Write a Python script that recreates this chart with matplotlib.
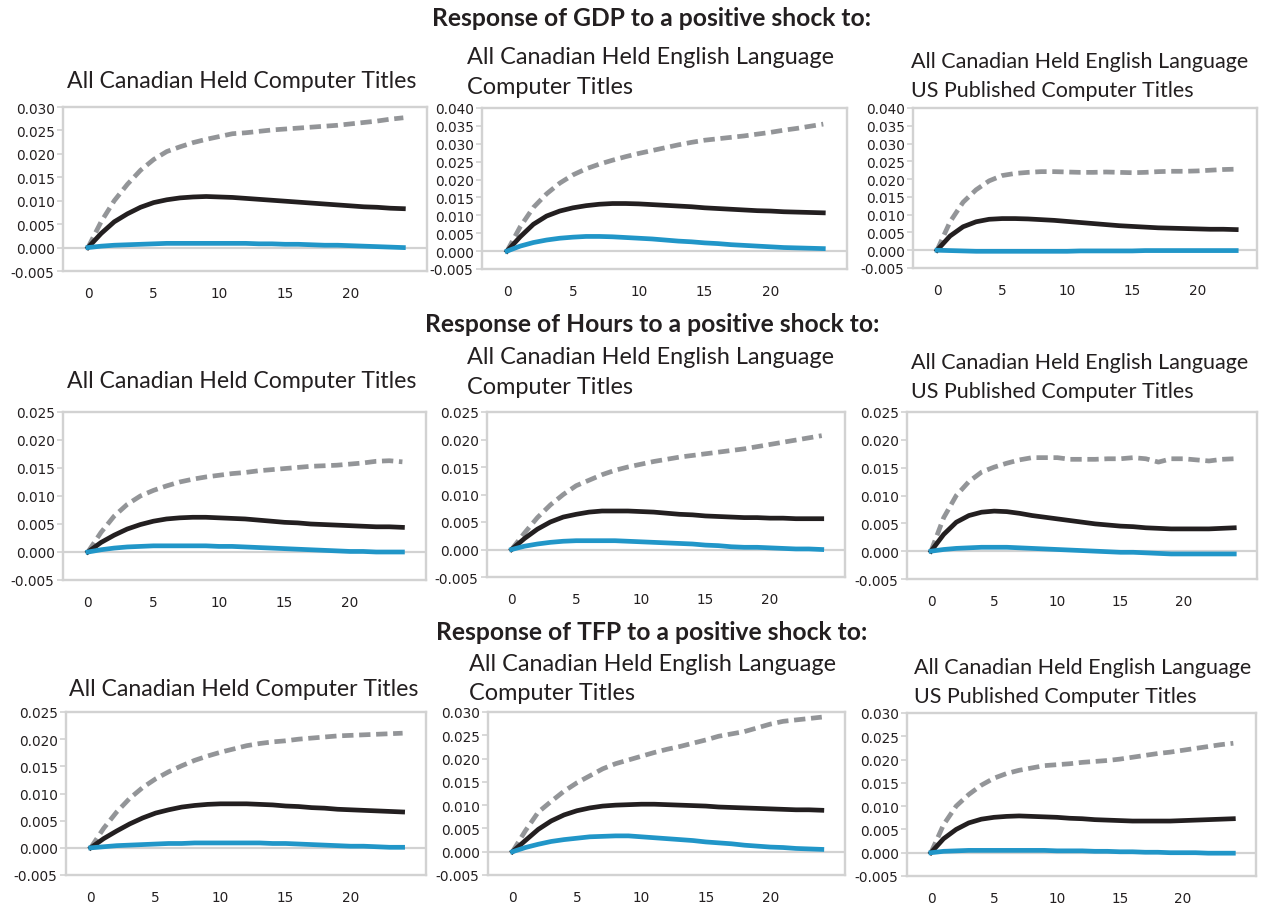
import numpy as np
import matplotlib
matplotlib.use("Agg")
import matplotlib.pyplot as plt

plt.rcParams['font.family'] = ['DejaVu Sans']

# ---- data (horizon 0..24) ----
horizons = list(range(25))

# GDP
gdp_all_upper = [0, 0.0055, 0.0100, 0.0135, 0.0165, 0.0188, 0.0205, 0.0215, 0.0224, 0.0231, 0.0237, 0.0243, 0.0245,
                 0.0248, 0.0251, 0.0253, 0.0255, 0.0257, 0.0259, 0.0261, 0.0264, 0.0267, 0.0270, 0.0274, 0.0277]
gdp_all_resp = [0, 0.0030, 0.0055, 0.0072, 0.0086, 0.0096, 0.0102, 0.0106, 0.0108, 0.0109, 0.0108, 0.0107, 0.0105,
                0.0103, 0.0101, 0.0099, 0.0097, 0.0095, 0.0093, 0.0091, 0.0089, 0.0087, 0.0086, 0.0084, 0.0083]
gdp_all_lower = [0, 0.0003, 0.0005, 0.0006, 0.0007, 0.0008, 0.0009, 0.0009, 0.0009, 0.0009, 0.0009, 0.0009, 0.0009,
                 0.0008, 0.0008, 0.0007, 0.0007, 0.0006, 0.0005, 0.0005, 0.0004, 0.0003, 0.0002, 0.0001, 0.0]

gdp_eng_upper = [0, 0.0068, 0.0122, 0.0160, 0.0190, 0.0213, 0.0230, 0.0243, 0.0254, 0.0264, 0.0273, 0.0281, 0.0289,
                 0.0297, 0.0304, 0.0310, 0.0314, 0.0318, 0.0322, 0.0327, 0.0332, 0.0338, 0.0343, 0.0349, 0.0355]
gdp_eng_resp = [0, 0.0040, 0.0075, 0.0098, 0.0112, 0.0121, 0.0127, 0.0131, 0.0133, 0.0133, 0.0132, 0.0130, 0.0128,
                0.0126, 0.0124, 0.0121, 0.0119, 0.0117, 0.0115, 0.0113, 0.0112, 0.0110, 0.0109, 0.0108, 0.0107]
gdp_eng_lower = [0, 0.0014, 0.0024, 0.0031, 0.0036, 0.0039, 0.0041, 0.0041, 0.0040, 0.0038, 0.0036, 0.0034, 0.0031,
                 0.0028, 0.0026, 0.0023, 0.0021, 0.0018, 0.0016, 0.0014, 0.0012, 0.0010, 0.0009, 0.0008, 0.0007]

# this panel stops at horizon 23
gdp_us_upper = [0, 0.0080, 0.0135, 0.0170, 0.0195, 0.0210, 0.0216, 0.0219, 0.0221, 0.0221, 0.0220, 0.0219, 0.0219,
                0.0220, 0.0219, 0.0218, 0.0219, 0.0221, 0.0222, 0.0222, 0.0223, 0.0225, 0.0227, 0.0228]
gdp_us_resp = [0, 0.0040, 0.0066, 0.0080, 0.0087, 0.0089, 0.0089, 0.0088, 0.0086, 0.0084, 0.0081, 0.0078, 0.0075,
               0.0072, 0.0069, 0.0067, 0.0065, 0.0063, 0.0062, 0.0061, 0.0060, 0.0059, 0.0059, 0.0058]
gdp_us_lower = [0, -0.0001, -0.0002, -0.0003, -0.0003, -0.0003, -0.0003, -0.0003, -0.0003, -0.0003, -0.0003, -0.0002,
                -0.0002, -0.0002, -0.0002, -0.0002, -0.0001, -0.0001, -0.0001, -0.0001, -0.0001, -0.0001, -0.0001, -0.0001]

# Hours
hrs_all_upper = [0, 0.0035, 0.0064, 0.0085, 0.0100, 0.0110, 0.0118, 0.0125, 0.0130, 0.0134, 0.0137, 0.0140, 0.0142,
                 0.0145, 0.0147, 0.0149, 0.0151, 0.0153, 0.0154, 0.0155, 0.0157, 0.0159, 0.0162, 0.0163, 0.0161]
hrs_all_resp = [0, 0.0017, 0.0030, 0.0041, 0.0049, 0.0055, 0.0059, 0.0061, 0.0062, 0.0062, 0.0061, 0.0060, 0.0059,
                0.0057, 0.0055, 0.0053, 0.0052, 0.0050, 0.0049, 0.0048, 0.0047, 0.0046, 0.0045, 0.0045, 0.0044]
hrs_all_lower = [0, 0.0004, 0.0007, 0.0009, 0.0010, 0.0011, 0.0011, 0.0011, 0.0011, 0.0011, 0.0010, 0.0010, 0.0009,
                 0.0008, 0.0007, 0.0006, 0.0005, 0.0004, 0.0003, 0.0002, 0.0001, 0.0001, 0.0, 0.0, 0.0]

hrs_eng_upper = [0, 0.0030, 0.0058, 0.0081, 0.0100, 0.0116, 0.0126, 0.0136, 0.0144, 0.0150, 0.0155, 0.0160, 0.0164,
                 0.0168, 0.0171, 0.0174, 0.0177, 0.0180, 0.0183, 0.0187, 0.0191, 0.0195, 0.0199, 0.0203, 0.0207]
hrs_eng_resp = [0, 0.0020, 0.0037, 0.0050, 0.0059, 0.0064, 0.0068, 0.0070, 0.0070, 0.0070, 0.0069, 0.0068, 0.0066,
                0.0064, 0.0063, 0.0061, 0.0060, 0.0059, 0.0058, 0.0058, 0.0057, 0.0057, 0.0056, 0.0056, 0.0056]
hrs_eng_lower = [0, 0.0006, 0.0010, 0.0013, 0.0015, 0.0016, 0.0016, 0.0016, 0.0016, 0.0015, 0.0014, 0.0013, 0.0012,
                 0.0011, 0.0010, 0.0008, 0.0007, 0.0005, 0.0004, 0.0004, 0.0003, 0.0002, 0.0001, 0.0001, 0.0]

hrs_us_upper = [0, 0.0060, 0.0100, 0.0125, 0.0142, 0.0151, 0.0158, 0.0164, 0.0168, 0.0168, 0.0168, 0.0165, 0.0165,
                0.0165, 0.0166, 0.0166, 0.0168, 0.0166, 0.0160, 0.0166, 0.0166, 0.0164, 0.0162, 0.0165, 0.0166]
hrs_us_resp = [0, 0.0030, 0.0052, 0.0064, 0.0070, 0.0072, 0.0071, 0.0068, 0.0064, 0.0061, 0.0058, 0.0055, 0.0052,
               0.0049, 0.0047, 0.0045, 0.0044, 0.0042, 0.0041, 0.0040, 0.0040, 0.0040, 0.0040, 0.0041, 0.0042]
hrs_us_lower = [0, 0.0003, 0.0005, 0.0006, 0.0007, 0.0007, 0.0007, 0.0006, 0.0005, 0.0004, 0.0003, 0.0002, 0.0001,
                0.0, -0.0001, -0.0002, -0.0002, -0.0003, -0.0004, -0.0005, -0.0005, -0.0005, -0.0005, -0.0005, -0.0005]

# TFP
tfp_all_upper = [0, 0.0036, 0.0066, 0.0091, 0.0111, 0.0127, 0.0140, 0.0151, 0.0161, 0.0169, 0.0176, 0.0182, 0.0188,
                 0.0192, 0.0195, 0.0197, 0.0200, 0.0202, 0.0204, 0.0206, 0.0207, 0.0208, 0.0209, 0.0210, 0.0211]
tfp_all_resp = [0, 0.0017, 0.0031, 0.0044, 0.0055, 0.0064, 0.0070, 0.0075, 0.0078, 0.0080, 0.0081, 0.0081, 0.0081,
                0.0080, 0.0079, 0.0077, 0.0076, 0.0074, 0.0073, 0.0071, 0.0070, 0.0069, 0.0068, 0.0067, 0.0066]
tfp_all_lower = [0, 0.0002, 0.0004, 0.0005, 0.0006, 0.0007, 0.0008, 0.0008, 0.0009, 0.0009, 0.0009, 0.0009, 0.0009,
                 0.0009, 0.0008, 0.0008, 0.0007, 0.0006, 0.0005, 0.0004, 0.0003, 0.0003, 0.0002, 0.0001, 0.0001]

tfp_eng_upper = [0, 0.0045, 0.0085, 0.0108, 0.0130, 0.0148, 0.0163, 0.0178, 0.0189, 0.0197, 0.0205, 0.0213, 0.0220,
                 0.0226, 0.0233, 0.0240, 0.0248, 0.0253, 0.0258, 0.0266, 0.0274, 0.0280, 0.0283, 0.0286, 0.0289]
tfp_eng_resp = [0, 0.0024, 0.0048, 0.0066, 0.0079, 0.0088, 0.0094, 0.0098, 0.0100, 0.0101, 0.0102, 0.0102, 0.0101,
                0.0100, 0.0099, 0.0098, 0.0096, 0.0095, 0.0094, 0.0093, 0.0092, 0.0091, 0.0090, 0.0090, 0.0089]
tfp_eng_lower = [0, 0.0009, 0.0016, 0.0022, 0.0026, 0.0029, 0.0032, 0.0033, 0.0034, 0.0034, 0.0032, 0.0030, 0.0028,
                 0.0026, 0.0024, 0.0021, 0.0019, 0.0017, 0.0014, 0.0012, 0.0010, 0.0009, 0.0007, 0.0006, 0.0005]

tfp_us_upper = [0, 0.0060, 0.0100, 0.0125, 0.0145, 0.0160, 0.0170, 0.0177, 0.0182, 0.0187, 0.0189, 0.0191, 0.0194,
                0.0196, 0.0198, 0.0201, 0.0205, 0.0209, 0.0213, 0.0216, 0.0220, 0.0224, 0.0228, 0.0232, 0.0235]
tfp_us_resp = [0, 0.0030, 0.0050, 0.0064, 0.0072, 0.0076, 0.0078, 0.0079, 0.0078, 0.0077, 0.0076, 0.0074, 0.0073,
               0.0071, 0.0070, 0.0069, 0.0068, 0.0068, 0.0068, 0.0068, 0.0069, 0.0070, 0.0071, 0.0072, 0.0073]
tfp_us_lower = [0, 0.0003, 0.0004, 0.0005, 0.0005, 0.0005, 0.0005, 0.0005, 0.0005, 0.0005, 0.0004, 0.0004, 0.0004,
                0.0003, 0.0003, 0.0002, 0.0002, 0.0001, 0.0001, 0.0, 0.0, 0.0, -0.0001, -0.0001, -0.0001]

row_titles = ["Response of GDP to a positive shock to:",
              "Response of Hours to a positive shock to:",
              "Response of TFP to a positive shock to:"]
col_titles = [["All Canadian Held Computer Titles"],
              ["All Canadian Held English Language", "Computer Titles"],
              ["All Canadian Held English Language", "US Published Computer Titles"]]
y_tops = [[0.030, 0.040, 0.040],
          [0.025, 0.025, 0.025],
          [0.025, 0.030, 0.030]]

series = [[(gdp_all_upper, gdp_all_resp, gdp_all_lower),
           (gdp_eng_upper, gdp_eng_resp, gdp_eng_lower),
           (gdp_us_upper, gdp_us_resp, gdp_us_lower)],
          [(hrs_all_upper, hrs_all_resp, hrs_all_lower),
           (hrs_eng_upper, hrs_eng_resp, hrs_eng_lower),
           (hrs_us_upper, hrs_us_resp, hrs_us_lower)],
          [(tfp_all_upper, tfp_all_resp, tfp_all_lower),
           (tfp_eng_upper, tfp_eng_resp, tfp_eng_lower),
           (tfp_us_upper, tfp_us_resp, tfp_us_lower)]]

# ---- layout (pixel boxes: left, right, top, bottom) ----
W, H = 1266, 904
boxes = [[(63, 427, 108, 272), (482, 847, 109, 270), (913, 1257, 109, 269)],
         [(63, 426, 413, 581), (487, 845, 413, 578), (907, 1257, 413, 580)],
         [(66, 426, 713, 876), (488, 845, 713, 876), (907, 1256, 714, 877)]]
row_title_y = [18, 324, 633]
# y of the first title line for each panel
title_y = [[82, 58, 62], [382, 358, 363], [690, 665, 668]]
title_x = [[242, 467, 911], [242, 467, 911], [244, 469, 914]]
title_size = [16.6, 16.9, 15.5]
line_gap = 29

GRAY = "#939598"
BLACK = "#231f20"
BLUE = "#2196c8"
FRAME = "#d2d2d2"
TXT = "#231f20"
title_font = ["Lato", "DejaVu Sans"]

fig = plt.figure(figsize=(W / 100, H / 100), dpi=100)
fig.patch.set_facecolor("white")

for r in range(3):
    fig.text(652 / W, 1 - row_title_y[r] / H, row_titles[r], ha="center", va="center",
             fontsize=17.7, fontweight="bold", family=title_font, color=TXT)
    for c in range(3):
        l, rr, t, b = boxes[r][c]
        ax = fig.add_axes([l / W, 1 - b / H, (rr - l) / W, (b - t) / H])
        up, resp, low = series[r][c]
        xs = horizons[:len(up)]
        ax.plot(xs, up, color=GRAY, lw=3.4, dashes=(2.4, 1.2), dash_capstyle="butt", zorder=3)
        ax.plot(xs, resp, color=BLACK, lw=3.4, zorder=4)
        ax.plot(xs, low, color=BLUE, lw=3.4, zorder=5)
        ax.axhline(0, color=FRAME, lw=1.6, zorder=1)

        top = y_tops[r][c]
        ax.set_ylim(-0.005, top)
        ax.set_yticks(np.arange(-0.005, top + 0.0001, 0.005))
        ax.yaxis.set_major_formatter(matplotlib.ticker.FormatStrFormatter("%.3f"))
        if r == 0 and c == 2:
            ax.set_xlim(-1.85, 24.6)
        else:
            ax.set_xlim(-1.9, 25.8)
        ax.set_xticks([0, 5, 10, 15, 20])
        for s in ax.spines.values():
            s.set_color(FRAME)
            s.set_linewidth(1.7)
        ax.tick_params(axis="y", length=4, width=1.2, color=FRAME, labelsize=9.8, labelcolor=TXT, pad=2)
        ax.tick_params(axis="x", length=0, labelsize=9.8, labelcolor=TXT, pad=10.5)

        lines = col_titles[c]
        for k, txt in enumerate(lines):
            ty = 1 - (title_y[r][c] + k * line_gap) / H
            fig.text(title_x[r][c] / W, ty, txt, ha="center" if len(lines) == 1 else "left",
                     va="center", fontsize=title_size[c], family=title_font, color=TXT)

fig.savefig("out.png", dpi=100)
